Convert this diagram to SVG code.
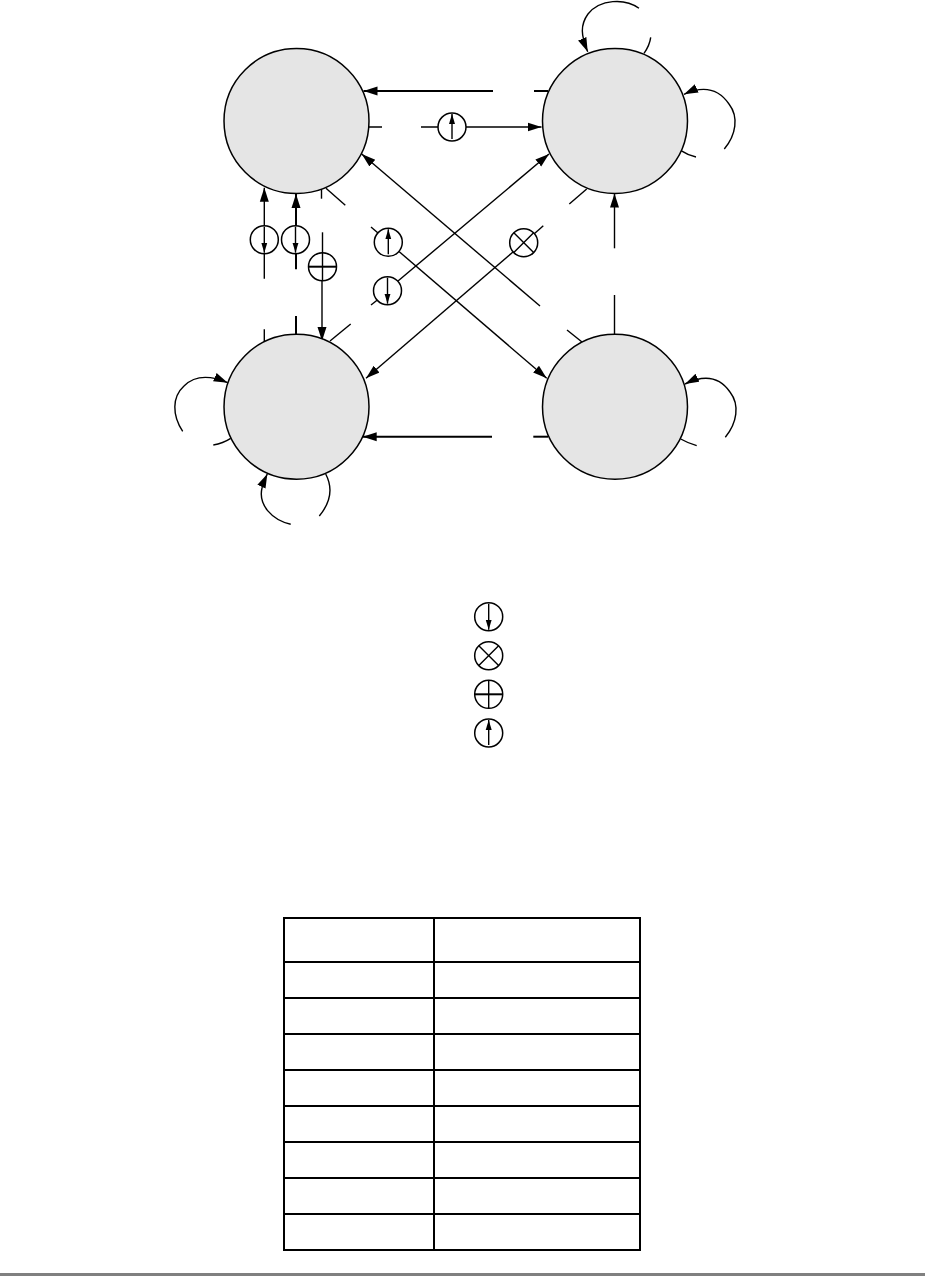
<svg xmlns="http://www.w3.org/2000/svg" xmlns:xlink="http://www.w3.org/1999/xlink" width="925" height="1276" viewBox="0 0 925 1276">
<style>
.node{fill:#e5e5e5;stroke:#000;stroke-width:1.5}
.c{fill:none;stroke:#000;stroke-width:1.4}
.t{fill:none;stroke:#000;stroke-width:2}
.a{marker-end:url(#h)}
.s{fill:#fff;stroke:#000;stroke-width:1.5}
.g{fill:none;stroke:#000;stroke-width:2}
</style>
<defs>
<marker id="h" markerUnits="userSpaceOnUse" markerWidth="15" markerHeight="11" refX="14" refY="5" orient="auto"><path d="M0 0.5L14 5L0 9.5z" fill="#000"/></marker>
<marker id="i" markerUnits="userSpaceOnUse" markerWidth="11" markerHeight="8" refX="10" refY="3.5" orient="auto"><path d="M0 0.5L10 3.5L0 6.5z" fill="#000"/></marker>
<g id="sd"><circle r="14" class="s"/><path d="M0 -13V13" class="c" style="marker-end:url(#i)"/></g>
<g id="su"><circle r="14" class="s"/><path d="M0 12V-13" class="c" style="marker-end:url(#i)"/></g>
<g id="sx"><circle r="14" class="s"/><path d="M-9.9 -9.9L9.9 9.9M-9.9 9.9L9.9 -9.9" class="c"/></g>
<g id="sp"><circle r="14" class="s"/><path d="M0 -14V14" class="c"/><path d="M-14 0H14" class="t"/></g>
</defs>
<rect width="925" height="1276" fill="#fff"/>
<g id="connectors">
<path class="t a" d="M493 91H363.5"/>
<path class="t" d="M534 91H548"/>
<path class="c" d="M369 127H382M421 127H439"/>
<path class="c a" d="M466 127H541.5"/>
<path class="c a" d="M540 306L361.7 154"/>
<path class="c" d="M567 330L582 342"/>
<path class="c a" d="M398 281L549 154"/>
<path class="c" d="M371 305L378 299.5"/>
<path class="c" d="M371 227L378 233"/>
<path class="c a" d="M399 251.5L546.7 378.3"/>
<path class="c" d="M543.3 225.7L534 234"/>
<path class="c a" d="M513 252L366 378.3"/>
<path class="c" d="M569.3 204L586.7 189"/>
<path class="c" d="M326 188.3L345.3 205.3"/>
<path class="c" d="M321.5 189V198.7"/>
<path class="c" d="M330 341L350.7 324"/>
<path class="c" d="M322.5 232.3V253"/>
<path class="c a" d="M322 280V341"/>
<path class="c a" d="M264.3 226V187.7"/>
<path class="c" d="M264.3 253V278.7"/>
<path class="c" d="M264.3 329.3V341.7"/>
<path class="t a" d="M296 226V194"/>
<path class="t" d="M296 253V269.3"/>
<path class="t" d="M296 316V335"/>
<path class="c a" d="M614.5 248.3V193.5"/>
<path class="c" d="M614.5 295V335"/>
<path class="t a" d="M492 436.7H362.7"/>
<path class="t" d="M533.3 436.7H548"/>
<path class="c a" d="M639 8.3C625 -2 600 -1 588 14C580 25 581 36 587.7 51.7"/>
<path class="c" d="M650.7 37.3C650 43 647 49 644 53.3"/>
<path class="c a" d="M724.3 149C736 135 739 117 729 104C718 88 702 86 684 94.3"/>
<path class="c" d="M681 150.7C686 154 691 156 696 157"/>
<path class="c a" d="M725.3 437.3C737 423 740 405 730 392C719 376 703 375 685 384"/>
<path class="c" d="M680.7 439C686 442 691 444 696.7 445.7"/>
<path class="c a" d="M182.7 431.3C172 415 172 397 184 386C196 374 212 376 227.7 382.7"/>
<path class="c" d="M230.7 438.3C225 442 219 444 213.3 445"/>
<path class="c a" d="M290.7 524.3C272 520 258 505 262 488C263 483 265 479 267.3 474"/>
<path class="c" d="M325.7 474C333 488 331 502 319.3 516"/>
<use xlink:href="#su" href="#su" x="452" y="127"/>
<use xlink:href="#sd" href="#sd" x="264.3" y="239.7"/>
<use xlink:href="#sd" href="#sd" x="295.5" y="239.7"/>
<use xlink:href="#sp" href="#sp" x="322.5" y="266.7"/>
<use xlink:href="#su" href="#su" x="388.3" y="242.3"/>
<use xlink:href="#sd" href="#sd" x="387.5" y="290.7"/>
<use xlink:href="#sx" href="#sx" x="523.7" y="242.7"/>
</g>
<g id="node-tl"><circle class="node" cx="296.5" cy="121" r="72.5"/></g>
<g id="node-tr"><circle class="node" cx="615" cy="121" r="72.5"/></g>
<g id="node-bl"><circle class="node" cx="296.5" cy="406.7" r="72.5"/></g>
<g id="node-br"><circle class="node" cx="615" cy="406.7" r="72.5"/></g>
<g id="legend">
<use xlink:href="#sd" href="#sd" x="488.7" y="616.7"/>
<use xlink:href="#sx" href="#sx" x="488.7" y="655.7"/>
<use xlink:href="#sp" href="#sp" x="488.7" y="694.3"/>
<use xlink:href="#su" href="#su" x="488.7" y="733"/>
</g>
<g id="table">
<rect class="g" x="284" y="918" width="356" height="332"/>
<path class="g" d="M434 918V1250M284 962H640M284 998H640M284 1034H640M284 1070H640M284 1106H640M284 1142H640M284 1178H640M284 1214H640"/>
</g>
<rect id="footer-bar" x="0" y="1273" width="925" height="3" fill="#808080"/>
</svg>
